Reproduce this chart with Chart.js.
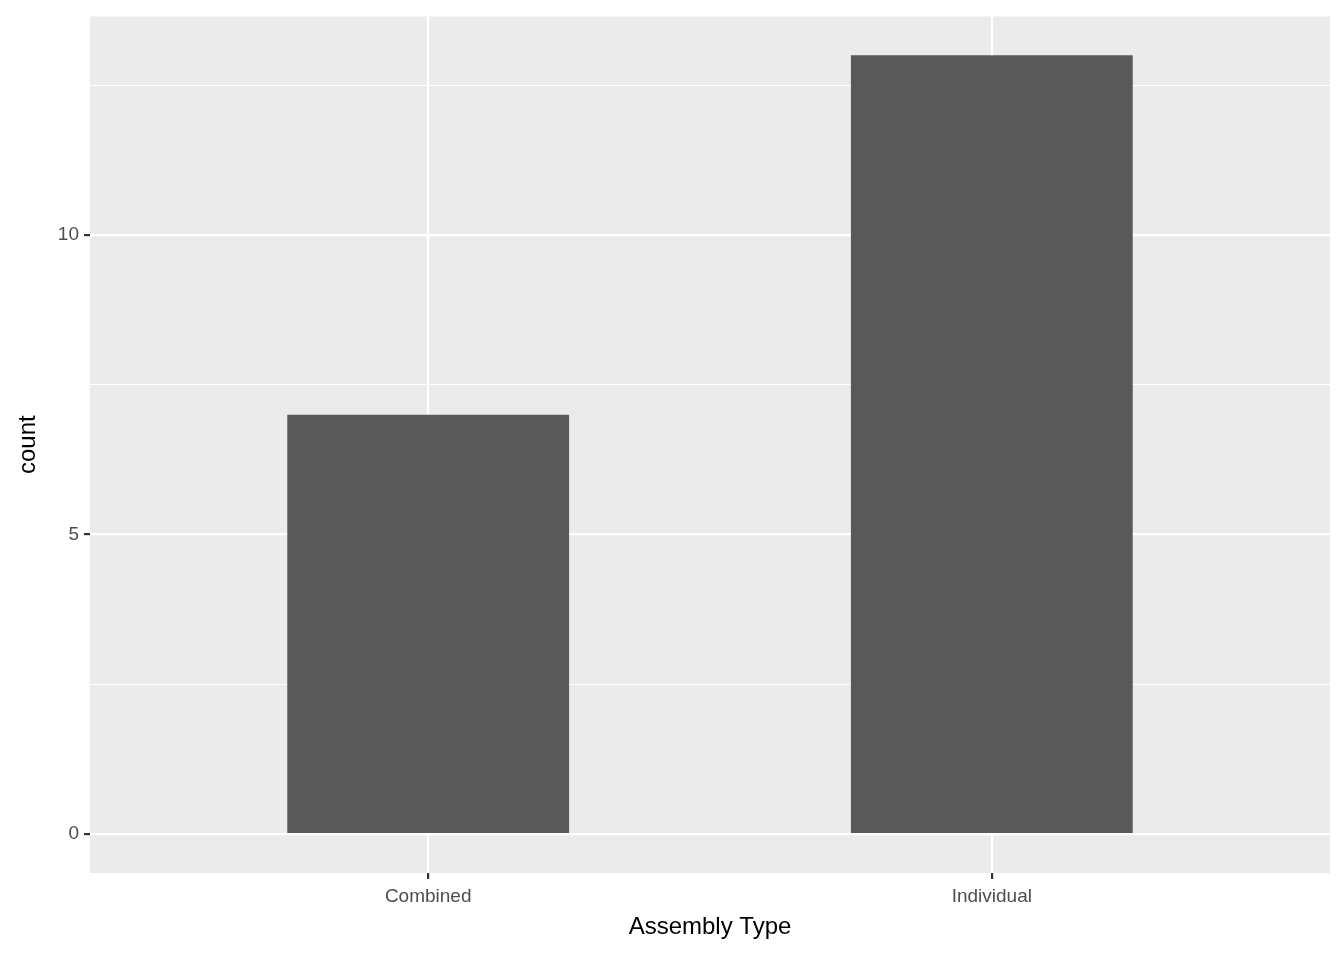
<!DOCTYPE html>
<html>
<head>
<script src="https://cdn.jsdelivr.net/npm/chart.js@4"></script>
<style>
  html, body { margin: 0; padding: 0; background: #fff; }
  #wrap { width: 1344px; height: 960px; }
</style>
</head>
<body>
<div id="wrap"><canvas id="chart"></canvas></div>
<script>

const categories = ["Combined", "Individual"];
const counts = [7, 13];
const yTickLabels = [0, 5, 10];

const panelBg = {
  id: "panelBg",
  beforeDraw(chart){
    const a = chart.chartArea;
    const ctx = chart.ctx;
    ctx.save();
    ctx.fillStyle = "#EBEBEB";
    ctx.fillRect(a.left, a.top, a.right - a.left, a.bottom - a.top);
    ctx.restore();
  }
};

function isMajor(v){
  return yTickLabels.indexOf(v) >= 0;
}

const ctx = document.getElementById("chart").getContext("2d");

new Chart(ctx, {
  type: "bar",
  data: {
    datasets: [{
      data: categories.map((c, i) => ({ x: i, y: counts[i] })),
      backgroundColor: "#595959",
      borderWidth: 0,
      barPercentage: 0.5,
      categoryPercentage: 1,
      grouped: false
    }]
  },
  options: {
    responsive: true,
    maintainAspectRatio: false,
    animation: false,
    layout: { padding: { top: 15, right: 14, left: 0, bottom: 0 } },
    plugins: { legend: { display: false }, tooltip: { enabled: false } },
    scales: {
      x: {
        type: "linear",
        offset: false,
        min: -0.6,
        max: 1.6,
        afterBuildTicks(scale){
          scale.ticks = categories.map((c, i) => ({ value: i }));
        },
        afterFit(scale){ scale.height = 87; },
        border: { display: false },
        grid: {
          offset: false,
          color: "#FFFFFF",
          lineWidth: 2.2,
          tickColor: "#333333",
          tickLength: 6
        },
        ticks: {
          padding: 6,
          color: "#4D4D4D",
          font: { family: "Liberation Sans", size: 19 },
          callback: v => categories[v]
        },
        title: {
          display: true,
          text: "Assembly Type",
          color: "#000000",
          font: { family: "Liberation Sans", size: 24 },
          padding: { top: 4, bottom: 18 }
        }
      },
      y: {
        min: -0.65,
        max: 13.65,
        afterBuildTicks(scale){
          scale.ticks = [0, 2.5, 5, 7.5, 10, 12.5].map(v => ({ value: v }));
        },
        afterFit(scale){ scale.width = 90; },
        border: { display: false },
        grid: {
          color: "#FFFFFF",
          lineWidth: c => isMajor(c.tick.value) ? 2.2 : 1.1,
          tickColor: c => isMajor(c.tick.value) ? "#333333" : "rgba(0,0,0,0)",
          tickLength: 6
        },
        ticks: {
          padding: 5,
          color: "#4D4D4D",
          font: { family: "Liberation Sans", size: 19 },
          callback: v => isMajor(v) ? String(v) : ""
        },
        title: {
          display: true,
          text: "count",
          color: "#000000",
          font: { family: "Liberation Sans", size: 24 },
          padding: { top: 14, bottom: 0 }
        }
      }
    }
  },
  plugins: [panelBg]
});

</script>
</body>
</html>
